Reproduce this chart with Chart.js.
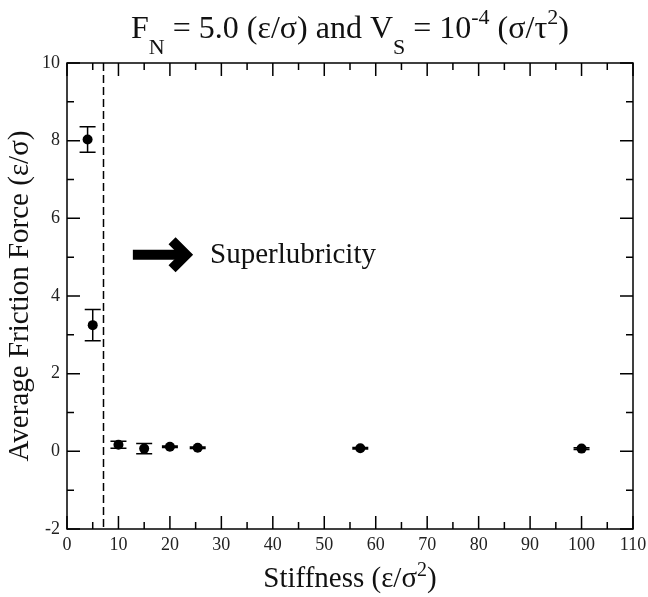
<!DOCTYPE html>
<html><head><meta charset="utf-8">
<script src="https://cdn.jsdelivr.net/npm/chart.js@4/dist/chart.umd.min.js"></script>
<style>html,body{margin:0;padding:0;background:#fff}#wrap{width:648px;height:597px;position:relative}</style>
</head><body><div id="wrap"><canvas id="c" width="648" height="597"></canvas></div>
<script>
// ---- data ----
const stiffness = [4, 5, 10, 15, 20, 25.4, 57, 100];
const frictionForce = [8.03, 3.25, 0.17, 0.07, 0.12, 0.09, 0.08, 0.07];
const frictionError = [0.33, 0.40, 0.09, 0.13, 0.02, 0.02, 0.02, 0.02];
const xTicks = [0, 10, 20, 30, 40, 50, 60, 70, 80, 90, 100, 110];
const xMinorTicks = [5, 15, 25, 35, 45, 55, 65, 75, 85, 95, 105];
const yTicks = [-2, 0, 2, 4, 6, 8, 10];
const yMinorTicks = [-1, 1, 3, 5, 7, 9];
const superlubricityBoundary = 7;
const arrowFrom = [12.8, 5.06];
const arrowTo = [24.5, 5.06];
const noteAt = [27.8, 4.85];
const noteText = "Superlubricity";

const FONT = '"Liberation Serif","Times New Roman",serif';
const INK = '#111';

function partsWidth(ctx, parts) {
  let w = 0;
  for (const p of parts) { ctx.font = p.s + 'px ' + FONT; w += ctx.measureText(p.t).width; }
  return w;
}
function drawParts(ctx, parts, x, y) {
  for (const p of parts) {
    ctx.font = p.s + 'px ' + FONT;
    ctx.fillText(p.t, x, y + (p.dy || 0));
    x += ctx.measureText(p.t).width;
  }
}

const M = 32, S = 22, A = 29, AS = 20;
const titleParts = [
  {t: 'F', s: M}, {t: 'N', s: S, dy: 16}, {t: ' = 5.0 (\u03b5/\u03c3) and V', s: M},
  {t: 'S', s: S, dy: 16}, {t: ' = 10', s: M}, {t: '-4', s: S, dy: -14},
  {t: ' (\u03c3/\u03c4', s: M}, {t: '2', s: S, dy: -14}, {t: ')', s: M}
];
const xTitleParts = [{t: 'Stiffness (\u03b5/\u03c3', s: A}, {t: '2', s: AS, dy: -11}, {t: ')', s: A}];
const yTitleParts = [{t: 'Average Friction Force (\u03b5/\u03c3)', s: A}];

const decor = {
  id: 'decor',
  beforeDatasetsDraw(chart) {
    const {ctx, chartArea: a, scales: {x, y}} = chart;
    ctx.save();
    ctx.strokeStyle = '#000';
    ctx.lineWidth = 1.5;
    ctx.setLineDash([8, 4]);
    const px = Math.round(x.getPixelForValue(superlubricityBoundary)) + 0.5;
    ctx.beginPath(); ctx.moveTo(px, a.top); ctx.lineTo(px, a.bottom); ctx.stroke();
    ctx.setLineDash([]);
    // error bars
    ctx.lineWidth = 1.5;
    stiffness.forEach((sx, i) => {
      const cx = x.getPixelForValue(sx);
      const yt = y.getPixelForValue(frictionForce[i] + frictionError[i]);
      const yb = y.getPixelForValue(frictionForce[i] - frictionError[i]);
      ctx.beginPath();
      ctx.moveTo(cx, yt); ctx.lineTo(cx, yb);
      ctx.moveTo(cx - 8, yt); ctx.lineTo(cx + 8, yt);
      ctx.moveTo(cx - 8, yb); ctx.lineTo(cx + 8, yb);
      ctx.stroke();
    });
    ctx.restore();
  },
  afterDraw(chart) {
    const {ctx, chartArea: a, scales: {x, y}} = chart;
    ctx.save();
    ctx.strokeStyle = '#000';
    ctx.lineWidth = 1.5;
    ctx.strokeRect(a.left, a.top, a.right - a.left, a.bottom - a.top);
    const MAJ = 13, MIN = 7;
    ctx.beginPath();
    for (const v of xTicks) {
      const p = x.getPixelForValue(v);
      ctx.moveTo(p, a.bottom); ctx.lineTo(p, a.bottom - MAJ);
      ctx.moveTo(p, a.top); ctx.lineTo(p, a.top + MAJ);
    }
    for (const v of xMinorTicks) {
      const p = x.getPixelForValue(v);
      ctx.moveTo(p, a.bottom); ctx.lineTo(p, a.bottom - MIN);
      ctx.moveTo(p, a.top); ctx.lineTo(p, a.top + MIN);
    }
    for (const v of yTicks) {
      const p = y.getPixelForValue(v);
      ctx.moveTo(a.left, p); ctx.lineTo(a.left + MAJ, p);
      ctx.moveTo(a.right, p); ctx.lineTo(a.right - MAJ, p);
    }
    for (const v of yMinorTicks) {
      const p = y.getPixelForValue(v);
      ctx.moveTo(a.left, p); ctx.lineTo(a.left + MIN, p);
      ctx.moveTo(a.right, p); ctx.lineTo(a.right - MIN, p);
    }
    ctx.stroke();

    // tick labels
    ctx.fillStyle = '#222';
    ctx.font = '18px ' + FONT;
    ctx.textAlign = 'center'; ctx.textBaseline = 'alphabetic';
    for (const v of xTicks) ctx.fillText(String(v), x.getPixelForValue(v), a.bottom + 21);
    ctx.textAlign = 'right'; ctx.textBaseline = 'middle';
    for (const v of yTicks) ctx.fillText(String(v), a.left - 7, y.getPixelForValue(v));

    // titles
    ctx.fillStyle = INK;
    ctx.textAlign = 'left'; ctx.textBaseline = 'alphabetic';
    const cx = (a.left + a.right) / 2;
    let w = partsWidth(ctx, titleParts);
    drawParts(ctx, titleParts, cx - w / 2, 38);
    w = partsWidth(ctx, xTitleParts);
    drawParts(ctx, xTitleParts, cx - w / 2, 587);
    ctx.save();
    ctx.translate(28, (a.top + a.bottom) / 2);
    ctx.rotate(-Math.PI / 2);
    w = partsWidth(ctx, yTitleParts);
    drawParts(ctx, yTitleParts, -w / 2, 0);
    ctx.restore();

    // arrow annotation
    const ax0 = x.getPixelForValue(arrowFrom[0]);
    const ay = y.getPixelForValue(arrowFrom[1]);
    const tip = x.getPixelForValue(arrowTo[0]);
    const vx = tip - 7;
    ctx.strokeStyle = '#000';
    ctx.lineWidth = 10;
    ctx.lineJoin = 'miter'; ctx.lineCap = 'butt';
    ctx.beginPath(); ctx.moveTo(ax0, ay); ctx.lineTo(vx - 2, ay); ctx.stroke();
    ctx.beginPath(); ctx.moveTo(vx - 14, ay - 14); ctx.lineTo(vx, ay); ctx.lineTo(vx - 14, ay + 14); ctx.stroke();
    ctx.fillStyle = INK;
    ctx.font = '29px ' + FONT;
    ctx.fillText(noteText, x.getPixelForValue(noteAt[0]), y.getPixelForValue(noteAt[1]));
    ctx.restore();
  }
};

new Chart(document.getElementById('c'), {
  type: 'scatter',
  data: {
    datasets: [{
      data: stiffness.map((v, i) => ({x: v, y: frictionForce[i]})),
      pointRadius: 5,
      pointBackgroundColor: '#000',
      pointBorderColor: '#000',
      pointBorderWidth: 0,
      showLine: false
    }]
  },
  options: {
    responsive: false,
    animation: false,
    events: [],
    layout: {padding: {left: 67, right: 15, top: 63, bottom: 68}},
    plugins: {legend: {display: false}, tooltip: {enabled: false}, title: {display: false}},
    scales: {
      x: {type: 'linear', min: 0, max: 110, display: false},
      y: {type: 'linear', min: -2, max: 10, display: false}
    }
  },
  plugins: [decor]
});
</script>
</body></html>
